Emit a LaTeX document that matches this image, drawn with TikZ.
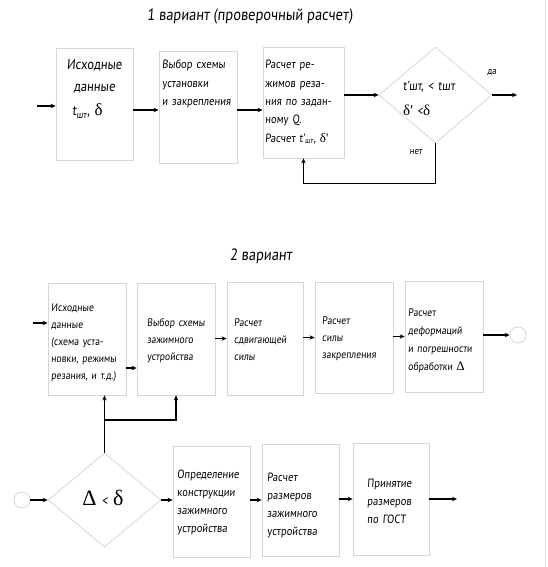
\documentclass[tikz,border=0pt]{standalone}
\usepackage{fontspec}
\setmainfont{PT Sans}[FakeSlant=0.08,FakeStretch=0.88]
\newfontfamily\grk{Liberation Serif}
\usetikzlibrary{arrows.meta,shapes.geometric}
\definecolor{boxgray}{RGB}{214,214,214}
\definecolor{edgegray}{RGB}{225,225,225}
\begin{document}
\begin{tikzpicture}[x=1pt,y=-1pt,
  box/.style={draw=boxgray,line width=0.8pt,inner sep=0pt,fill=white},
  dia/.style={draw=boxgray,line width=0.8pt,diamond,inner sep=0pt,aspect=1.15},
  circ/.style={draw=boxgray,line width=0.8pt,circle,inner sep=0pt,minimum size=16pt},
  txt/.style={inner sep=0pt,anchor=base west,text width=82pt,align=left,font=\fontsize{12}{18.3}\selectfont},
  txtb/.style={inner sep=0pt,anchor=base west,text width=82pt,align=left,font=\fontsize{11}{17}\selectfont},
  arr/.style={line width=1.2pt,-{Stealth[length=5pt,width=4.5pt]}},
  ln/.style={line width=1.2pt}
]
\useasboundingbox (0,0) rectangle (547,567);
\draw[edgegray,line width=1pt] (545.5,0) -- (545.5,567);

% titles
\node[inner sep=0pt,font=\fontsize{16.4}{19}\selectfont] (t1) at (250,16) {1 вариант (проверочный расчет)};
\node[inner sep=0pt,font=\fontsize{16.4}{19}\selectfont] (t2) at (261,256) {2 вариант};

% ---------- top row ----------
\node[box,minimum width=77pt,minimum height=112pt] (A1) at (94.5,104) {};
\node[box,minimum width=78pt,minimum height=112pt] (A2) at (198,107) {};
\node[box,minimum width=81pt,minimum height=111pt] (A3) at (303.5,102.5) {};
\node[dia,minimum width=113pt,minimum height=96pt] (AD) at (435.5,95) {};

\node[inner sep=0pt,anchor=base,text width=77pt,align=center,font=\fontsize{14.3}{22}\selectfont] (A1t) at (94.5,70)
  {Исходные\\данные\\[2pt]\hspace*{-14pt}t\textsubscript{шт}, {\grk\fontsize{17}{20}\selectfont δ}};
\node[txt] (A2t) at (162,69) {Выбор схемы\\установки\\и закрепления};
\node[txt] (A3t) at (265,69) {Расчет ре-\\жимов реза-\\ния по задан-\\ному Q.\\Расчет t'\textsubscript{шт}, {\grk\fontsize{13}{15}\selectfont δ'}};
\node[inner sep=0pt,anchor=base west,text width=80pt,align=left,font=\fontsize{13}{25}\selectfont] (ADt) at (403,91)
  {t'шт, < tшт\\{\grk\fontsize{15}{17}\selectfont δ'} <{\grk\fontsize{15}{17}\selectfont δ}};
\node[inner sep=0pt,font=\fontsize{10}{12}\selectfont] (yes) at (492,73) {да};
\node[inner sep=0pt,font=\fontsize{10}{12}\selectfont] (no) at (416,152) {нет};

\coordinate (ain) at (37,106);
\draw[arr] (ain) -- (ain -| A1.west);
\coordinate (p1) at ([yshift=-6pt]A1.east);
\draw[arr] (p1) -- (p1 -| A2.west);
\coordinate (p2) at ([yshift=-3pt]A2.east);
\draw[arr] (p2) -- (p2 -| A3.west);
\draw[arr] (A3.east |- AD.west) -- (AD.west);
\coordinate (aout) at (517,95);
\draw[arr] (AD.east) -- (aout);
\draw[arr] (AD.south) -- ++(0,40) -| (A3.south);

% ---------- middle row ----------
\node[box,minimum width=78pt,minimum height=112pt] (B1) at (87,339) {};
\node[box,minimum width=78pt,minimum height=112pt] (B2) at (176,339) {};
\node[box,minimum width=76pt,minimum height=113pt] (B3) at (265,338.5) {};
\node[box,minimum width=78pt,minimum height=111pt] (B4) at (354,337.5) {};
\node[box,minimum width=78pt,minimum height=111pt] (B5) at (444,336.5) {};
\node[circ] (E) at (518,335) {};

\node[txtb] (B1t) at (51,311) {Исходные\\данные\\(схема уста-\\новки, режимы\\резания, и т.д.)};
\node[txtb] (B2t) at (147,326) {Выбор схемы\\зажимного\\устройства};
\node[txtb] (B3t) at (234,326) {Расчет\\сдвигающей\\силы};
\node[txtb] (B4t) at (322,324) {Расчет\\силы\\закрепления};
\node[txtb,font=\fontsize{11}{18}\selectfont] (B5t) at (408,316) {Расчет\\деформаций\\и погрешности\\обработки {\grk\fontsize{13}{15}\selectfont Δ}};

\coordinate (bin) at (33,323);
\draw[arr] (bin) -- (bin -| B1.west);
\coordinate (q1) at ([yshift=-29pt]B1.east);
\draw[arr] (q1) -- (q1 -| B2.west);
\draw[arr] (B2.east |- B3.center) -- (B3.west);
\draw[arr] (B3.east |- B4.center) -- (B4.west);
\draw[arr] (B4.east |- B5.center) -- (B5.west);
\draw[arr] (B5.east |- E.west) -- (E.west);

% ---------- bottom row ----------
\node[circ] (S) at (22,500) {};
\node[dia,minimum width=113pt,minimum height=94pt] (D) at (104.5,500) {};
\node[box,minimum width=77pt,minimum height=111pt] (C1) at (211.5,501.5) {};
\node[box,minimum width=77pt,minimum height=112pt] (C2) at (300.5,500) {};
\node[box,minimum width=76pt,minimum height=112pt] (C3) at (391,499) {};

\node[inner sep=0pt,font=\fontsize{22}{24}\selectfont] (Dt) at (103,498)
  {{\grk Δ} {\fontsize{14}{16}\selectfont <} {\grk δ}};
\node[txt] (C1t) at (177,478) {Определение\\конструкции\\зажимного\\устройства};
\node[txt] (C2t) at (267,481) {Расчет\\размеров\\зажимного\\устройства};
\node[txt] (C3t) at (367,487) {Принятие\\размеров\\по ГОСТ};

\draw[arr] (S.east) -- (D.west);
\draw[arr] (D.east) -- (D.east -| C1.west);
\draw[arr] (C1.east |- C2.center) -- (C2.west);
\draw[arr] (C2.east |- C3.center) -- (C3.west);
\coordinate (cout) at (457,499);
\draw[arr] (C3.east |- cout) -- (cout);

\coordinate (J) at (104.5,420);
\draw[ln] (D.north) -- (J);
\draw[arr] (J) -- (J |- B1.south);
\draw[arr] (J) -| (B2.south);
\end{tikzpicture}
\end{document}
